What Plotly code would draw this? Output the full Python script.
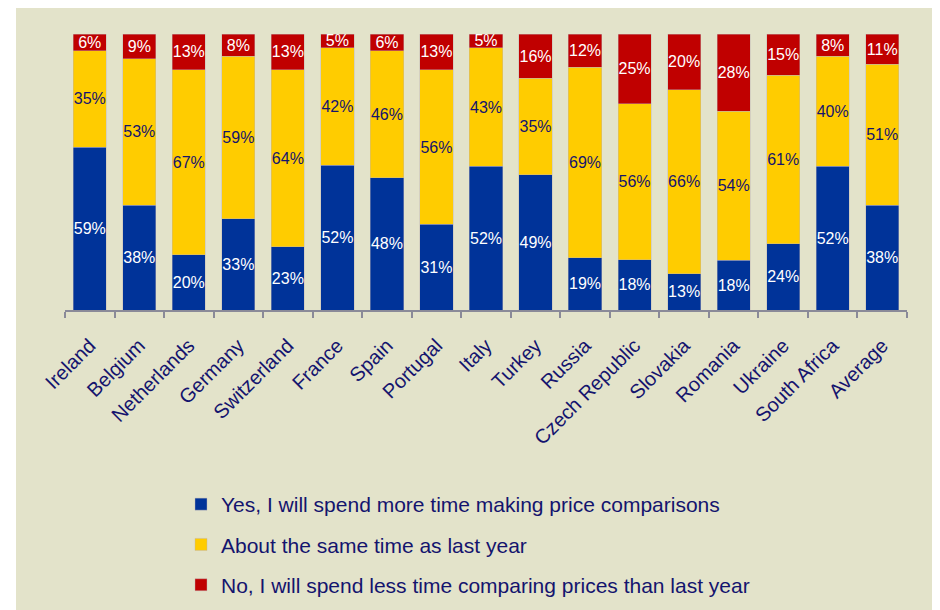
import plotly.graph_objects as go

countries = ["Ireland", "Belgium", "Netherlands", "Germany", "Switzerland", "France",
             "Spain", "Portugal", "Italy", "Turkey", "Russia", "Czech Republic",
             "Slovakia", "Romania", "Ukraine", "South Africa", "Average"]
yes_more = [59, 38, 20, 33, 23, 52, 48, 31, 52, 49, 19, 18, 13, 18, 24, 52, 38]
same_time = [35, 53, 67, 59, 64, 42, 46, 56, 43, 35, 69, 56, 66, 54, 61, 40, 51]
no_less = [6, 9, 13, 8, 13, 5, 6, 13, 5, 16, 12, 25, 20, 28, 15, 8, 11]

series = [
    ("Yes, I will spend more time making price comparisons", yes_more, "#003399", "white"),
    ("About the same time as last year", same_time, "#FFCC00", "#14146E"),
    ("No, I will spend less time comparing prices than last year", no_less, "#C00000", "white"),
]

NAVY = "#14146E"
FONT = "Liberation Sans, Arial, sans-serif"

fig = go.Figure()
for i, (name, vals, color, tcolor) in enumerate(series):
    fig.add_trace(go.Bar(
        x=countries, y=vals, name=name,
        marker=dict(color=color, line=dict(color="rgba(190,180,180,0.7)", width=0.6)),
        text=[f"{v}%" for v in vals],
        textposition="inside", insidetextanchor="middle", textangle=0,
        constraintext="none",
        textfont=dict(color=tcolor, size=16, family=FONT),
        width=0.67, legendgroup=f"g{i}",
        hoverinfo="skip",
    ))

# page offset from body margin
OFF = 8
W, H = 940, 610
ml = 65 - OFF
mt = 34 - OFF
plot_right = 907 - OFF
plot_bottom = 310 - OFF
mr = W - plot_right
mb = H - plot_bottom
pw, ph = W - ml - mr, H - mt - mb

def px(xp):
    return (xp - OFF - ml) / pw

def py(yp):
    return (plot_bottom - (yp - OFF)) / ph

fig.add_shape(type="rect", xref="paper", yref="paper",
              x0=px(16), x1=px(936), y0=py(620), y1=py(5),
              fillcolor="#E3E3CA", line=dict(width=0), layer="below")

fig.update_layout(
    width=W, height=H,
    margin=dict(l=ml, r=mr, t=mt, b=mb, pad=0, autoexpand=False),
    barmode="stack", barnorm="percent",
    paper_bgcolor="white", plot_bgcolor="rgba(0,0,0,0)",
    font=dict(family=FONT, color=NAVY, size=17),
    showlegend=True,
    legend=dict(x=px(181), y=py(484), xanchor="left", yanchor="top",
                orientation="v", traceorder="grouped", tracegroupgap=10,
                bgcolor="rgba(0,0,0,0)", font=dict(size=21, color=NAVY, family=FONT)),
    xaxis=dict(showline=True, linecolor="#8A8A98", linewidth=2,
               ticks="outside", tickson="boundaries", ticklen=6, tickwidth=2,
               tickcolor="#8A8A98", tickangle=-45, ticklabelstandoff=14,
               tickfont=dict(size=20, color=NAVY, family=FONT),
               showgrid=False, zeroline=False, fixedrange=True),
    yaxis=dict(range=[0, 100], visible=False, showgrid=False, zeroline=False),
)

fig.write_html("out.html")
